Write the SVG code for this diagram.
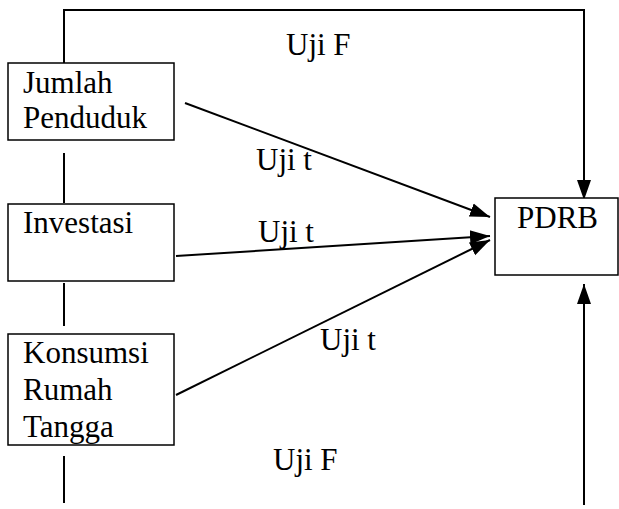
<svg xmlns="http://www.w3.org/2000/svg" width="619" height="509" viewBox="0 0 619 509">
<style>
.box{fill:#fff;stroke:#000;stroke-width:1.5}
.ln{fill:none;stroke:#000;stroke-width:2}
text{font-family:"Liberation Serif","Times New Roman",serif;font-size:31px;fill:#000}
</style>
<defs>
<marker id="ah" viewBox="0 0 10 10" refX="10" refY="5" markerWidth="10" markerHeight="10" markerUnits="userSpaceOnUse" orient="auto"><path d="M0,0 L10,5 L0,10 z" fill="#000"/></marker>
<marker id="ah2" viewBox="0 0 20 20" refX="20" refY="10" markerWidth="20" markerHeight="20" markerUnits="userSpaceOnUse" orient="auto"><path d="M0,3 L20,10 L0,17 z" fill="#000"/></marker>
</defs>
<rect width="619" height="509" fill="#fff"/>
<g id="connectors">
<polyline class="ln" points="64,63 64,10 584,10 584,200" marker-end="url(#ah2)"/>
<line class="ln" x1="584" y1="505" x2="584" y2="284" marker-end="url(#ah2)"/>
<line class="ln" x1="64" y1="153" x2="64" y2="203"/>
<line class="ln" x1="64" y1="283" x2="64" y2="326"/>
<line class="ln" x1="64" y1="456" x2="64" y2="503"/>
<line class="ln" x1="185" y1="103" x2="490" y2="217" marker-end="url(#ah2)"/>
<line class="ln" x1="176" y1="256" x2="490" y2="236" marker-end="url(#ah2)"/>
<line class="ln" x1="176" y1="395" x2="490" y2="240" marker-end="url(#ah2)"/>
</g>
<g id="labels">
<text x="286" y="55">Uji F</text>
<text x="256" y="170">Uji t</text>
<text x="258" y="242">Uji t</text>
<text x="320" y="350">Uji t</text>
<text x="273" y="470">Uji F</text>
</g>
<g id="node-jumlah">
<rect class="box" x="8" y="63" width="166" height="77"/>
<text x="23" y="93">Jumlah</text>
<text x="23" y="128">Penduduk</text>
</g>
<g id="node-investasi">
<rect class="box" x="8" y="204" width="166" height="77"/>
<text x="23" y="233">Investasi</text>
</g>
<g id="node-konsumsi">
<rect class="box" x="8" y="334" width="166" height="111"/>
<text x="23" y="363">Konsumsi</text>
<text x="23" y="400">Rumah</text>
<text x="23" y="437">Tangga</text>
</g>
<g id="node-pdrb">
<rect class="box" x="495" y="198" width="123" height="77"/>
<text x="517" y="228">PDRB</text>
</g>
</svg>
